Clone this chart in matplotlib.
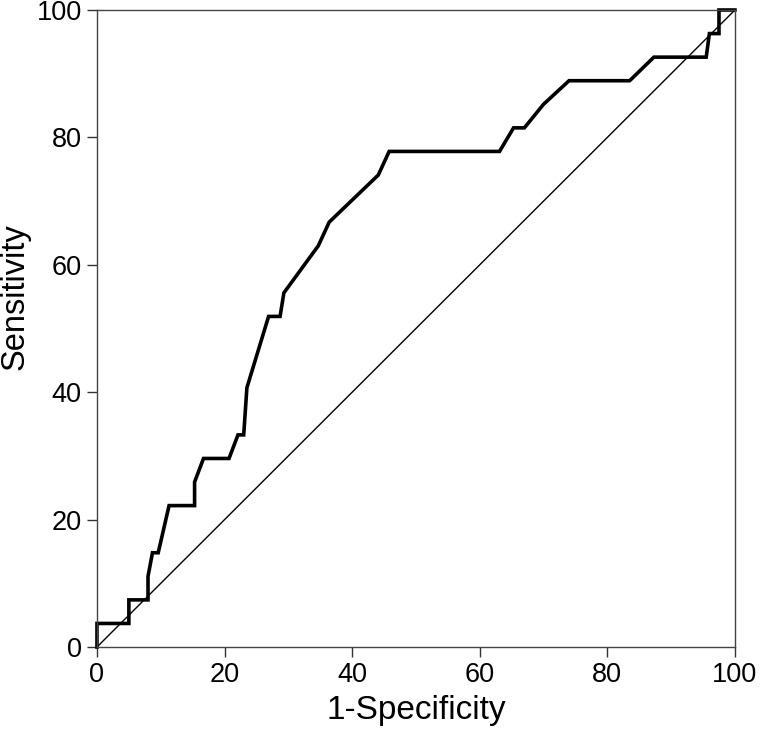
import matplotlib
matplotlib.use("Agg")
import matplotlib.pyplot as plt

# ROC curve vertices (1-specificity %, sensitivity %)
fpr = [0.0, 0.0, 5.0, 5.0, 8.0, 8.0, 8.7, 9.6, 11.3, 15.3, 15.3, 16.7, 20.7,
       22.1, 23.0, 23.5, 26.9, 28.7, 29.3, 34.7, 36.4, 44.1, 45.8, 63.1,
       65.3, 67.0, 70.0, 74.0, 83.5, 87.3, 95.5, 96.0, 97.5, 97.5, 100.0]
tpr = [0.0, 3.7, 3.7, 7.4, 7.4, 11.1, 14.8, 14.8, 22.2, 22.2, 25.9, 29.6, 29.6,
       33.3, 33.3, 40.7, 51.9, 51.9, 55.6, 63.0, 66.7, 74.1, 77.8, 77.8,
       81.5, 81.5, 85.2, 88.9, 88.9, 92.6, 92.6, 96.3, 96.3, 100.0, 100.0]
ref = [0, 100]
ticks = [0, 20, 40, 60, 80, 100]

plt.rcParams["font.family"] = ["Liberation Sans", "DejaVu Sans"]

fig = plt.figure(figsize=(7.6, 7.36), dpi=100)
ax = fig.add_axes([0.1276, 0.1209, 0.8394, 0.8655])

ax.plot(ref, ref, color="black", lw=1.0)
ax.plot(fpr, tpr, color="black", lw=2.6, solid_joinstyle="miter", clip_on=False)

ax.set_xlim(0, 100)
ax.set_ylim(0, 100)
ax.set_xticks(ticks)
ax.set_yticks(ticks)
ax.tick_params(direction="out", length=7, width=1.0, labelsize=19.5,
               color="#333333", pad=4)
for s in ax.spines.values():
    s.set_color("#444444")
    s.set_linewidth(1.0)

ax.set_xlabel("1-Specificity", fontsize=24, labelpad=5)
ax.set_ylabel("Sensitivity", fontsize=23.5)
ax.yaxis.set_label_coords(-0.104, 0.55)

fig.savefig("out.png", dpi=100, facecolor="white")
